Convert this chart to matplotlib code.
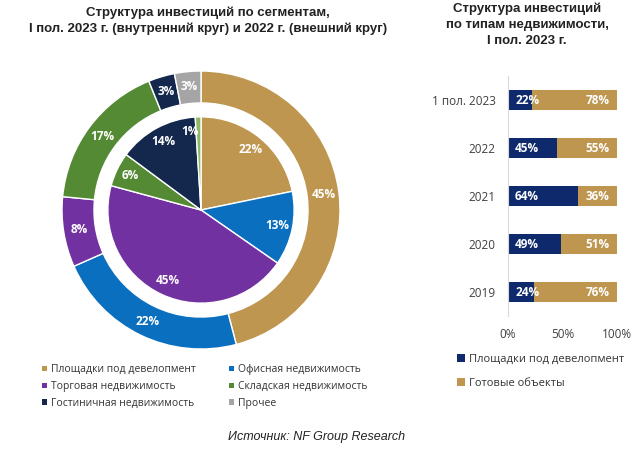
import matplotlib
matplotlib.use("Agg")
import matplotlib.pyplot as plt
from matplotlib.patches import Patch

# --- данные ---
segments = ["Площадки под девелопмент", "Офисная недвижимость", "Торговая недвижимость",
            "Складская недвижимость", "Гостиничная недвижимость", "Прочее"]
share_2022 = [45, 22, 8, 17, 3, 3]          # внешний круг
share_h1_2023 = [22, 13, 45, 6, 14, 1]      # внутренний круг
seg_colors = ["#BE964F", "#0B6FBF", "#7231A0", "#548A34", "#14284D", "#A5A5A5"]
inner_colors = ["#BE964F", "#0B6FBF", "#7231A0", "#548A34", "#14284D", "#8FB866"]

years = ["2019", "2020", "2021", "2022", "1 пол. 2023"]
dev_share = [24, 49, 64, 45, 22]
ready_share = [76, 51, 36, 55, 78]
bar_navy = "#0E2A6C"
bar_gold = "#BE964F"

title_font = "Liberation Sans"
body_font = "Open Sans"

fig = plt.figure(figsize=(6.38, 4.51), dpi=100)
W, H = 638, 451

# --- кольцевая диаграмма ---
cx, cy, r = 201, 210, 139
ax = fig.add_axes([(cx - r) / W, (H - cy - r) / H, 2 * r / W, 2 * r / H])
lbl = dict(color="white", fontweight="bold", fontsize=8.5, family=body_font,
           ha="center", va="center")
ax.pie(share_2022, radius=1, colors=seg_colors, startangle=90, counterclock=False,
       labels=[f"{v}%" for v in share_2022], labeldistance=0.89, textprops=lbl,
       wedgeprops=dict(width=0.23, edgecolor="white", linewidth=1))
_, inner_txt = ax.pie(share_h1_2023, radius=0.67, colors=inner_colors, startangle=90,
                      counterclock=False, labels=[f"{v}%" for v in share_h1_2023],
                      labeldistance=0.84, textprops=lbl,
                      wedgeprops=dict(edgecolor="white", linewidth=1))
# подпись маленького сектора чуть левее, как в оригинале
inner_txt[-1].set_ha("right")
ax.set_xlim(-1, 1)
ax.set_ylim(-1, 1)

fig.text(208 / W, 1 - 13 / H, "Структура инвестиций по сегментам,",
         ha="center", va="center", fontsize=9.5, fontweight="bold", family=title_font, color="#222222")
fig.text(208 / W, 1 - 29 / H, "I пол. 2023 г. (внутренний круг) и 2022 г. (внешний круг)",
         ha="center", va="center", fontsize=9.5, fontweight="bold", family=title_font, color="#222222")

handles = [Patch(facecolor=c, edgecolor="none") for c in seg_colors]
order = [0, 2, 4, 1, 3, 5]
fig.legend([handles[i] for i in order], [segments[i] for i in order], ncol=2,
           loc="upper left", bbox_to_anchor=(33 / W, 1 - 355 / H), frameon=False,
           prop=dict(family=body_font, size=7.5), handlelength=0.45, handleheight=0.45,
           handletextpad=0.4, columnspacing=3.2, labelspacing=0.55, labelcolor="#333333")

# --- столбчатая диаграмма ---
bx = fig.add_axes([508 / W, 1 - 316 / H, 109 / W, 240 / H])
d = [v / 100 for v in dev_share]
g = [v / 100 for v in ready_share]
bx.barh(years, d, height=0.42, color=bar_navy)
bx.barh(years, g, left=d, height=0.42, color=bar_gold)
for i in range(len(years)):
    bx.text(0.065, i, f"{dev_share[i]}%", color="white", fontweight="bold", fontsize=8.5,
            family=body_font, ha="left", va="center")
    bx.text(0.935, i, f"{ready_share[i]}%", color="white", fontweight="bold", fontsize=8.5,
            family=body_font, ha="right", va="center")
bx.set_xlim(0, 1)
bx.set_ylim(-0.5, len(years) - 0.5)
bx.set_xticks([0, 0.5, 1])
bx.set_xticklabels(["0%", "50%", "100%"])
for s in ["top", "right", "bottom"]:
    bx.spines[s].set_visible(False)
bx.spines["left"].set_color("#D9D9D9")
bx.tick_params(axis="both", length=0, labelsize=8.5, labelcolor="#404040")
bx.tick_params(axis="x", pad=9)
bx.tick_params(axis="y", pad=9)
for t in bx.get_xticklabels() + bx.get_yticklabels():
    t.set_family(body_font)

for k, line in enumerate(["Структура инвестиций", "по типам недвижимости,", "I пол. 2023 г."]):
    fig.text(527 / W, 1 - (9 + 16 * k) / H, line, ha="center", va="center", fontsize=9.5,
             fontweight="bold", family=title_font, color="#222222")

fig.legend([Patch(facecolor=bar_navy), Patch(facecolor=bar_gold)],
           ["Площадки под девелопмент", "Готовые объекты"],
           loc="upper left", bbox_to_anchor=(447 / W, 1 - 344 / H), frameon=False,
           prop=dict(family=body_font, size=8), handlelength=0.7, handleheight=0.7,
           handletextpad=0.35, labelspacing=1.15, labelcolor="#333333")

fig.text(317 / W, 1 - 437 / H, "Источник: NF Group Research", ha="center", va="center",
         fontsize=9, style="italic", family=title_font, color="#222222")

fig.savefig("out.png", dpi=100)
